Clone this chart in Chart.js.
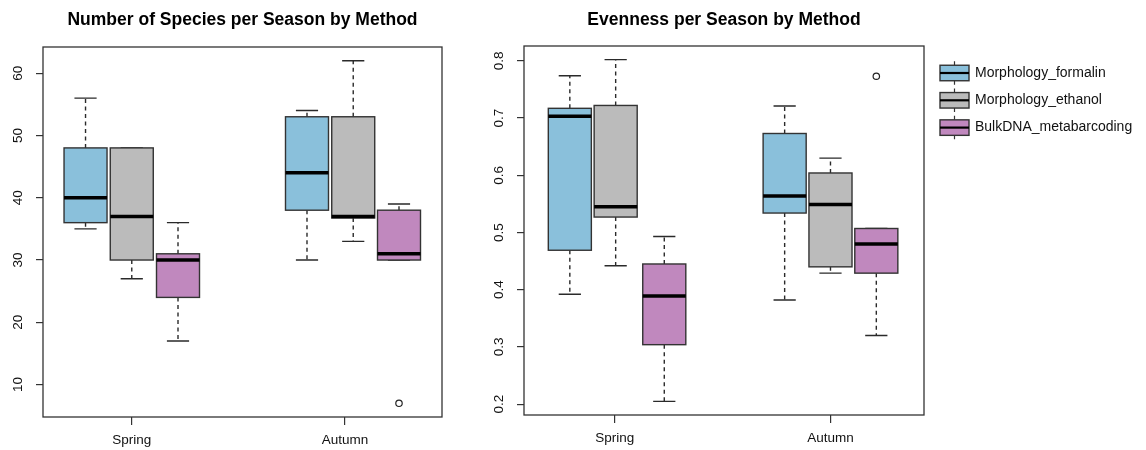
<!DOCTYPE html>
<html>
<head>
<meta charset="utf-8">
<script src="https://cdn.jsdelivr.net/npm/chart.js@4.4.1/dist/chart.umd.min.js"></script>
<style>
  html, body { margin: 0; padding: 0; background: #fff; }
  #wrap { position: relative; width: 1146px; height: 450px; }
  .panel { position: absolute; top: 0; height: 450px; }
</style>
</head>
<body>
<div id="wrap">
  <div class="panel" style="left:0;width:470px"><canvas id="chartSpecies"></canvas></div>
  <div class="panel" style="left:470px;width:676px"><canvas id="chartEvenness"></canvas></div>
</div>
<script>
// groups, in drawing order: Spring x3 methods, then Autumn x3 methods
const seasons = ['Spring', 'Autumn'];
const methods = ['Morphology_formalin', 'Morphology_ethanol', 'BulkDNA_metabarcoding'];
const methodColors = ['#8ac0db', '#bbbbbb', '#c088be'];

// Number of species (five-number summaries per box)
const speciesMin = [35, 27, 17, 30, 33, 30];
const speciesQ1 = [36, 30, 24, 38, 36.75, 30];
const speciesMedian = [40, 37, 30, 44, 37, 31];
const speciesQ3 = [48, 48, 31, 53, 53, 38];
const speciesMax = [56, 48, 36, 54, 62, 39];
const speciesOutliers = [[], [], [], [], [], [7]];
const speciesTicks = [10, 20, 30, 40, 50, 60];

// Evenness
const evenMin = [0.392, 0.442, 0.205, 0.382, 0.429, 0.320];
const evenQ1 = [0.469, 0.527, 0.304, 0.534, 0.440, 0.429];
const evenMedian = [0.703, 0.545, 0.389, 0.564, 0.549, 0.480];
const evenQ3 = [0.717, 0.722, 0.445, 0.673, 0.604, 0.507];
const evenMax = [0.774, 0.802, 0.493, 0.721, 0.630, 0.507];
const evenOutliers = [[], [], [], [], [], [0.773]];
const evenTicks = [0.2, 0.3, 0.4, 0.5, 0.6, 0.7, 0.8];

const FONT = "'Liberation Sans', Arial, Helvetica, sans-serif";
Chart.defaults.font.family = FONT;

const BOX_HALF = 0.465;
const CAP_HALF = 0.24;

function boxPlugin(p) {
  return {
    id: 'rBoxes_' + p.id,
    beforeDatasetsDraw(chart) {
      const { ctx, scales: { x, y } } = chart;
      ctx.save();
      p.pos.forEach((pos, i) => {
        const xl = x.getPixelForValue(pos - BOX_HALF);
        const xr = x.getPixelForValue(pos + BOX_HALF);
        const xc = x.getPixelForValue(pos);
        const cl = x.getPixelForValue(pos - CAP_HALF);
        const cr = x.getPixelForValue(pos + CAP_HALF);
        const yMin = y.getPixelForValue(p.min[i]);
        const yQ1 = y.getPixelForValue(p.q1[i]);
        const yMed = y.getPixelForValue(p.median[i]);
        const yQ3 = y.getPixelForValue(p.q3[i]);
        const yMax = y.getPixelForValue(p.max[i]);

        // whiskers
        ctx.strokeStyle = '#2a2a2a';
        ctx.lineWidth = 1.4;
        ctx.setLineDash([4, 3.5]);
        ctx.beginPath();
        ctx.moveTo(xc, yQ3); ctx.lineTo(xc, yMax);
        ctx.moveTo(xc, yQ1); ctx.lineTo(xc, yMin);
        ctx.stroke();
        ctx.setLineDash([]);
        ctx.beginPath();
        ctx.moveTo(cl, yMax); ctx.lineTo(cr, yMax);
        ctx.moveTo(cl, yMin); ctx.lineTo(cr, yMin);
        ctx.stroke();

        // box
        ctx.fillStyle = methodColors[i % 3];
        ctx.fillRect(xl, yQ3, xr - xl, yQ1 - yQ3);
        ctx.strokeStyle = '#333';
        ctx.lineWidth = 1.4;
        ctx.strokeRect(xl, yQ3, xr - xl, yQ1 - yQ3);

        // median
        ctx.strokeStyle = '#000';
        ctx.lineWidth = 3.5;
        ctx.beginPath();
        ctx.moveTo(xl, yMed); ctx.lineTo(xr, yMed);
        ctx.stroke();
      });
      ctx.restore();
    },
    afterDraw(chart) {
      const { ctx, chartArea: a, scales: { y } } = chart;
      ctx.save();
      // frame
      ctx.strokeStyle = '#333';
      ctx.lineWidth = 1.3;
      ctx.strokeRect(a.left, a.top, a.right - a.left, a.bottom - a.top);

      // title
      ctx.fillStyle = '#000';
      ctx.font = 'bold 17.5px ' + FONT;
      ctx.textAlign = 'center';
      ctx.textBaseline = 'alphabetic';
      ctx.fillText(p.title, (a.left + a.right) / 2, 24.5);

      // rotated y tick labels
      ctx.font = '13.5px ' + FONT;
      ctx.fillStyle = '#111';
      y.ticks.forEach(t => {
        ctx.save();
        ctx.translate(a.left - 21.5, y.getPixelForValue(t.value));
        ctx.rotate(-Math.PI / 2);
        ctx.fillText(String(t.value), 0, 0);
        ctx.restore();
      });

      // legend
      if (p.legend) {
        const lx = a.right + 16, w = 29, h = 15.5;
        methods.forEach((m, i) => {
          const cy = a.top + 27 + i * 27.3;
          ctx.strokeStyle = '#333';
          ctx.lineWidth = 1.2;
          ctx.beginPath();
          ctx.moveTo(lx + w / 2, cy - h / 2 - 4); ctx.lineTo(lx + w / 2, cy - h / 2);
          ctx.moveTo(lx + w / 2, cy + h / 2); ctx.lineTo(lx + w / 2, cy + h / 2 + 4);
          ctx.stroke();
          ctx.fillStyle = methodColors[i];
          ctx.fillRect(lx, cy - h / 2, w, h);
          ctx.strokeStyle = '#333';
          ctx.lineWidth = 1.4;
          ctx.strokeRect(lx, cy - h / 2, w, h);
          ctx.strokeStyle = '#000';
          ctx.lineWidth = 2.2;
          ctx.beginPath();
          ctx.moveTo(lx, cy); ctx.lineTo(lx + w, cy);
          ctx.stroke();
          ctx.fillStyle = '#111';
          ctx.font = '14px ' + FONT;
          ctx.textAlign = 'left';
          ctx.textBaseline = 'middle';
          ctx.fillText(m, lx + w + 6, cy);
        });
      }
      ctx.restore();
    }
  };
}

function makePanel(canvasId, p) {
  const all = [...p.min, ...p.max, ...p.outliers.flat()];
  const lo = Math.min(...all), hi = Math.max(...all);
  const ext = (hi - lo) * 0.04;
  const outlierPts = p.outliers.flatMap((vals, i) => vals.map(v => ({ x: p.pos[i], y: v })));

  return new Chart(document.getElementById(canvasId), {
    type: 'scatter',
    data: {
      datasets: [{
        label: 'outliers',
        data: outlierPts,
        pointRadius: 3.2,
        pointBorderWidth: 1.2,
        pointBorderColor: '#222',
        pointBackgroundColor: 'rgba(0,0,0,0)'
      }]
    },
    options: {
      responsive: true,
      maintainAspectRatio: false,
      animation: false,
      events: [],
      layout: { padding: { top: p.padTop, right: p.padRight, left: 0, bottom: 0 } },
      plugins: { legend: { display: false }, tooltip: { enabled: false } },
      scales: {
        x: {
          type: 'linear',
          min: p.xRange[0],
          max: p.xRange[1],
          afterBuildTicks: s => { s.ticks = p.seasonPos.map(v => ({ value: v })); },
          afterFit: s => { s.height = p.xAxisH; },
          grid: { drawOnChartArea: false, color: '#333', lineWidth: 1.2, tickLength: 8 },
          border: { display: false },
          ticks: {
            autoSkip: false,
            maxRotation: 0,
            padding: 7,
            color: '#111',
            font: { size: 13.5 },
            callback: (v, i) => seasons[i]
          }
        },
        y: {
          min: lo - ext,
          max: hi + ext,
          afterBuildTicks: s => { s.ticks = p.ticks.map(v => ({ value: v })); },
          afterFit: s => { s.width = p.yAxisW; },
          grid: { drawOnChartArea: false, color: '#333', lineWidth: 1.2, tickLength: 7 },
          border: { display: false },
          ticks: { display: false }
        }
      }
    },
    plugins: [boxPlugin(p)]
  });
}

makePanel('chartSpecies', {
  id: 'species',
  title: 'Number of Species per Season by Method',
  min: speciesMin, q1: speciesQ1, median: speciesMedian, q3: speciesQ3, max: speciesMax,
  outliers: speciesOutliers, ticks: speciesTicks,
  pos: [1, 2, 3, 5.79, 6.79, 7.78], seasonPos: [2, 6.61], xRange: [0.08, 8.71],
  padTop: 47, padRight: 28, yAxisW: 43, xAxisH: 33, legend: false
});

makePanel('chartEvenness', {
  id: 'evenness',
  title: 'Evenness per Season by Method',
  min: evenMin, q1: evenQ1, median: evenMedian, q3: evenQ3, max: evenMax,
  outliers: evenOutliers, ticks: evenTicks,
  pos: [1.07, 2.06, 3.11, 5.71, 6.70, 7.69], seasonPos: [2.04, 6.70], xRange: [0.08, 8.72],
  padTop: 46, padRight: 222, yAxisW: 54, xAxisH: 35, legend: true
});
</script>
</body>
</html>
